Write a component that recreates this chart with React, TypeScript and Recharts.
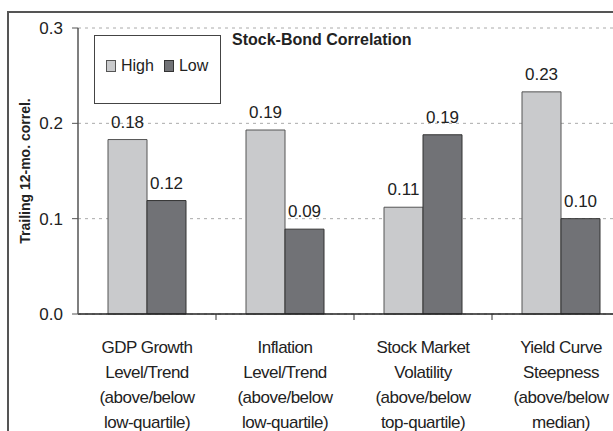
import { BarChart, Bar, XAxis, YAxis, CartesianGrid, LabelList } from 'recharts';

const CATEGORIES = [
  'GDP Growth\nLevel/Trend\n(above/below\nlow-quartile)',
  'Inflation\nLevel/Trend\n(above/below\nlow-quartile)',
  'Stock Market\nVolatility\n(above/below\ntop-quartile)',
  'Yield Curve\nSteepness\n(above/below\nmedian)',
];
const HIGH = [0.183, 0.193, 0.112, 0.233];
const LOW = [0.119, 0.089, 0.188, 0.1];
const Y_TICKS = [0, 0.1, 0.2, 0.3];

const SERIES = [
  { key: 'high', name: 'High', fill: '#c9cacc', stroke: '#555' },
  { key: 'low', name: 'Low', fill: '#717276', stroke: '#333' },
];

const data = CATEGORIES.map((name, i) => ({ name, high: HIGH[i], low: LOW[i] }));

const FONT = '"Liberation Sans", Arial, sans-serif';

function CategoryTick(props: any) {
  const { x, y, payload, index } = props;
  const lines = String(payload.value).split('\n');
  const edge = x + (payload.offset || 0);
  return (
    <g>
      {index < CATEGORIES.length - 1 && (
        <line x1={edge} x2={edge} y1={y - 8} y2={y - 2} stroke="#333" strokeWidth={1} />
      )}
      <text x={x} y={y} textAnchor="middle" fontSize={17} letterSpacing={-0.5} fill="#222" fontFamily={FONT}>
        {lines.map((line, i) => (
          <tspan key={i} x={x} dy={i === 0 ? 31 : 25}>
            {line}
          </tspan>
        ))}
      </text>
    </g>
  );
}

export default function App() {
  return (
    <div style={{ position: 'fixed', left: 0, top: 0, width: 613, height: 431, overflow: 'hidden', background: '#fff', fontFamily: FONT }}>
      {/* outer frame: only its left and top edges fall inside the window */}
      <div style={{ position: 'absolute', left: 7, top: 11, width: 1200, height: 1000, borderLeft: '2px solid #555', borderTop: '2px solid #555' }} />

      <div style={{ position: 'absolute', left: 0, top: 0 }}>
        <BarChart
          width={640}
          height={450}
          data={data}
          margin={{ top: 28, right: 10, left: 0, bottom: 6 }}
          barGap={0}
          barSize={39}
        >
          <CartesianGrid vertical={false} stroke="#aaa" strokeDasharray="3 4" />
          <XAxis
            dataKey="name"
            interval={0}
            height={130}
            tickLine={false}
            tickSize={6}
            tickMargin={2}
            axisLine={{ stroke: '#222', strokeWidth: 1.5 }}
            tick={<CategoryTick />}
          />
          <YAxis
            width={78}
            domain={[0, 0.3]}
            ticks={Y_TICKS}
            tickFormatter={(v: number) => v.toFixed(1)}
            tick={{ fontSize: 17, fill: '#222', fontFamily: FONT }}
            tickSize={6}
            tickMargin={9}
            tickLine={{ stroke: '#555' }}
            axisLine={{ stroke: '#555', strokeWidth: 1.5 }}
          />
          {SERIES.map((s) => (
            <Bar key={s.key} dataKey={s.key} name={s.name} fill={s.fill} stroke={s.stroke} strokeWidth={1} isAnimationActive={false}>
              <LabelList
                dataKey={s.key}
                position="top"
                offset={12}
                formatter={(v: any) => Number(v).toFixed(2)}
                style={{ fontSize: 17, fill: '#222', fontFamily: FONT }}
              />
            </Bar>
          ))}
        </BarChart>
      </div>

      {/* y-axis title */}
      <div
        style={{
          position: 'absolute',
          left: 25,
          top: 171,
          transform: 'translate(-50%, -50%) rotate(-90deg)',
          whiteSpace: 'nowrap',
          fontSize: 14,
          fontWeight: 'bold',
          color: '#222',
        }}
      >
        Trailing 12-mo. correl.
      </div>

      {/* chart title */}
      <div style={{ position: 'absolute', left: 232, top: 31, fontSize: 16, fontWeight: 'bold', color: '#222', lineHeight: '18px' }}>
        Stock-Bond Correlation
      </div>

      {/* legend */}
      <div
        style={{
          position: 'absolute',
          left: 94,
          top: 35,
          width: 127,
          height: 69,
          border: '1px solid #444',
          background: '#fff',
          boxSizing: 'border-box',
          display: 'flex',
          alignItems: 'center',
          paddingLeft: 11,
          fontSize: 16,
          color: '#222',
          paddingBottom: 8,
        }}
      >
        {SERIES.map((s) => (
          <span key={s.key} style={{ display: 'inline-flex', alignItems: 'center', marginRight: 10 }}>
            <span style={{ display: 'inline-block', width: 8, height: 10, background: s.fill, border: `1px solid ${s.stroke}`, marginRight: 5 }} />
            {s.name}
          </span>
        ))}
      </div>
    </div>
  );
}
